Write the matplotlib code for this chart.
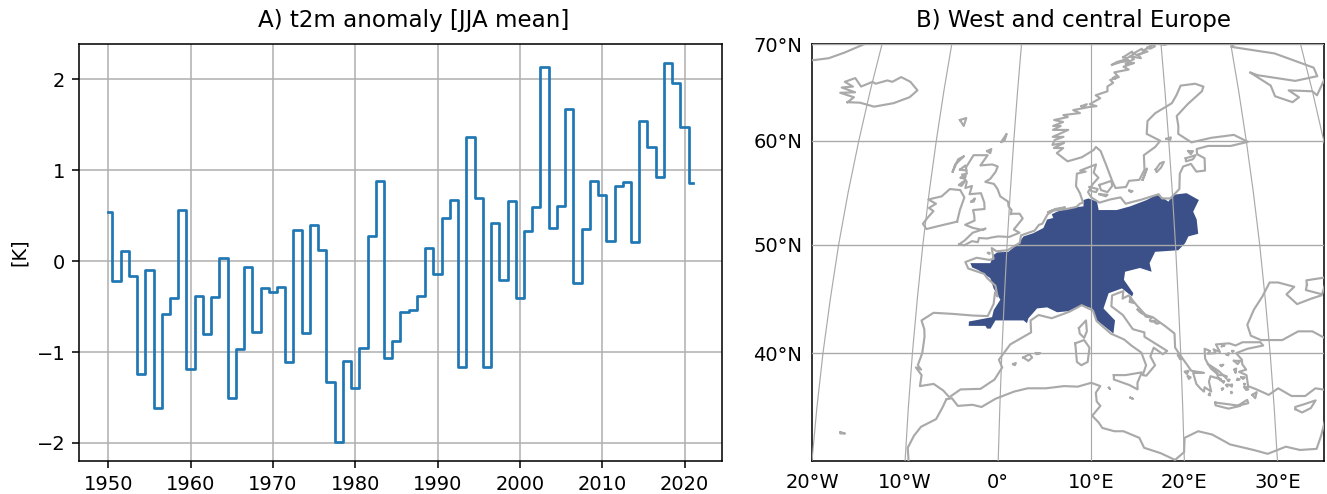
import numpy as np
import matplotlib
matplotlib.use("Agg")
import matplotlib.pyplot as plt

years = np.arange(1950, 2022)
t2m_anom = [0.54, -0.22, 0.11, -0.16, -1.24, -0.10, -1.61, -0.58, -0.41, 0.56,
            -1.19, -0.38, -0.80, -0.39, 0.04, -1.51, -0.97, -0.06, -0.78, -0.30,
            -0.34, -0.28, -1.11, 0.34, -0.79, 0.40, 0.12, -1.33, -1.99, -1.10,
            -1.40, -0.96, 0.28, 0.88, -1.06, -0.88, -0.56, -0.54, -0.38, 0.15,
            -0.14, 0.47, 0.67, -1.16, 1.37, 0.69, -1.16, 0.42, -0.21, 0.66,
            -0.41, 0.33, 0.60, 2.14, 0.36, 0.61, 1.67, -0.24, 0.35, 0.88,
            0.73, 0.22, 0.83, 0.87, 0.21, 1.54, 1.26, 0.92, 2.18, 1.96,
            1.48, 0.86]

# robinson table, lat every 5 deg
rob_lat = np.arange(0, 95, 5)
rob_plen = [1.0, 0.9986, 0.9954, 0.99, 0.9822, 0.973, 0.96, 0.9427, 0.9216, 0.8962,
            0.8679, 0.835, 0.7986, 0.7597, 0.7186, 0.6732, 0.6213, 0.5722, 0.5322]
rob_pdfe = [0.0, 0.062, 0.124, 0.186, 0.248, 0.31, 0.372, 0.434, 0.4958, 0.5571,
            0.6176, 0.6769, 0.7346, 0.7903, 0.8435, 0.8936, 0.9394, 0.9761, 1.0]

central_lon = 10
map_extent = [-20, 35, 30.2, 70]
grid_lons = [-30, -20, -10, 0, 10, 20, 30, 40]
grid_lats = [30, 40, 50, 60, 70]
lon_ticks = [-20, -10, 0, 10, 20, 30]
lon_labels = ["20°W", "10°W", "0°", "10°E", "20°E", "30°E"]
lat_ticks = [40, 50, 60, 70]
lat_labels = ["40°N", "50°N", "60°N", "70°N"]

# region mask outline (lon, lat)
region = [(-3.9, 42.5), (-3.9, 42.9), (-1.3, 43.3), (-1.15, 43.95), (-0.45, 44.9), (-1.3, 45.95),
          (-1.75, 46.9), (-3.2, 47.65), (-3.95, 47.9), (-4.2, 48.3), (-1.85, 48.3), (-1.55, 49.05),
          (-1.1, 49.3), (0.2, 49.35), (1.35, 50.15), (1.9, 50.8), (3.05, 51.1), (4.25, 51.6),
          (4.65, 52.4), (5.4, 52.55), (5.2, 52.9), (5.85, 53.15), (7.45, 53.5), (9.05, 53.65),
          (9.05, 54.25), (9.65, 54.4), (10.7, 54.1), (10.9, 53.3), (13.1, 53.3), (14.75, 53.65),
          (16.8, 54.25), (18.05, 54.75), (18.7, 54.5), (19.45, 54.1), (20.1, 54.75), (21.75, 54.9),
          (23.2, 54.25), (22.4, 53.15), (22.75, 52.4), (22.8, 51.05), (21.6, 50.8), (21.15, 50.15),
          (20.3, 49.5), (17.55, 49.35), (16.85, 48.3), (17.05, 47.5), (15.7, 47.85), (13.95, 47.5),
          (13.8, 46.75), (14.85, 45.5), (14.7, 45.2), (13.55, 45.95), (12.0, 45.5), (11.4, 44.1),
          (12.7, 43.0), (12.5, 41.8), (10.65, 43.0), (10.1, 44.1), (8.95, 44.4), (7.4, 43.85),
          (6.1, 43.75), (4.95, 44.2), (3.8, 44.1), (2.85, 43.2), (2.7, 42.75), (2.3, 43.0),
          (-0.9, 43.0), (-1.4, 42.25), (-1.8, 42.25), (-2.0, 42.5)]

# coastlines, lon/lat
iberia_france_north = [(-5.6, 36.0), (-6.3, 36.6), (-7.4, 37.2), (-8.9, 37.0), (-8.8, 38.0), (-9.5, 38.7),
                       (-8.9, 38.5), (-9.3, 38.9), (-8.9, 40.0), (-8.8, 41.5), (-8.9, 42.2), (-9.3, 43.0), (-8.0, 43.7),
                       (-5.8, 43.6), (-3.5, 43.45), (-1.8, 43.4), (-1.2, 44.5), (-1.1, 45.6), (-0.8, 45.2),
                       (-1.1, 46.2), (-2.1, 46.9), (-2.5, 47.3), (-4.4, 47.8), (-4.8, 48.4), (-3.5, 48.8),
                       (-2.0, 48.6), (-1.5, 48.7), (-1.8, 49.7), (-1.2, 49.4), (0.1, 49.5), (1.5, 50.2),
                       (1.6, 50.9), (3.2, 51.35), (3.7, 51.9), (4.1, 52.0), (4.7, 52.9), (5.4, 53.25),
                       (7.0, 53.4), (8.2, 53.6), (8.6, 53.9), (9.0, 54.0), (8.6, 54.9), (8.1, 55.6),
                       (8.2, 56.8), (9.3, 57.0), (8.6, 57.1), (10.6, 57.7), (10.3, 56.9), (10.9, 56.4), (10.2, 55.8),
                       (9.6, 55.0), (10.0, 54.5), (11.0, 54.0), (12.3, 54.3), (13.6, 54.5), (14.2, 53.9),
                       (16.2, 54.3), (18.3, 54.8), (18.7, 54.4), (19.7, 54.4), (20.9, 55.3), (21.1, 56.8),
                       (21.6, 57.5), (22.6, 57.75), (23.2, 57.0), (24.3, 57.1), (24.4, 58.3), (23.5, 58.7),
                       (23.5, 59.2), (25.0, 59.5), (27.9, 59.5), (30.2, 59.9), (28.5, 60.6), (25.5, 60.3),
                       (22.9, 59.85), (21.3, 60.7), (21.4, 61.5), (21.3, 62.5), (22.9, 63.7), (25.0, 65.0),
                       (25.3, 65.5), (24.2, 65.8), (22.2, 65.6), (21.5, 64.6), (20.8, 63.8), (18.5, 62.8),
                       (17.4, 62.0), (17.2, 60.7), (18.9, 60.0), (18.2, 59.4), (16.7, 58.6), (16.7, 57.2),
                       (16.0, 56.2), (14.7, 56.1), (14.3, 55.5), (13.0, 55.4), (12.6, 56.1), (11.9, 57.6),
                       (11.2, 59.0), (10.6, 59.4), (10.3, 59.1), (8.8, 58.4), (7.0, 58.0), (5.6, 58.8),
                       (6.4, 59.3), (5.2, 59.3), (6.5, 59.8), (5.0, 59.6), (5.3, 60.1), (6.4, 60.4), (5.0, 60.4),
                       (7.0, 61.1), (5.0, 61.1), (6.0, 61.5), (5.0, 61.5), (6.3, 61.9), (5.1, 62.1), (6.9, 62.4),
                       (6.3, 62.6), (8.5, 62.8), (7.6, 63.1), (9.6, 63.4), (10.7, 63.5), (9.8, 63.7), (11.2, 64.3),
                       (10.6, 64.6), (12.2, 65.0), (12.2, 65.5), (13.0, 65.9), (12.6, 66.2), (13.8, 66.5),
                       (13.2, 67.0), (15.2, 67.3), (14.5, 67.6), (16.0, 68.0), (14.8, 67.9), (16.0, 68.4),
                       (15.5, 68.7), (17.0, 68.5), (16.6, 68.9), (18.0, 69.2), (17.3, 69.3), (18.5, 69.7),
                       (19.0, 70.1), (20.5, 69.9), (22.0, 70.3), (25.0, 71.0), (28.0, 71.0), (31.0, 70.3),
                       (30.0, 69.7), (33.5, 69.3), (36.0, 69.0), (41.0, 67.5), (41.2, 66.6), (38.0, 66.1),
                       (33.0, 66.7), (32.0, 67.0), (34.5, 65.6), (34.8, 64.5), (37.0, 63.9), (38.0, 64.4),
                       (36.8, 65.1), (40.0, 65.0), (40.5, 64.6), (42.0, 66.2)]
med_north = [(-5.4, 36.1), (-4.4, 36.7), (-2.2, 36.75), (-0.7, 37.6), (0.1, 38.7), (-0.3, 39.4), (0.9, 40.8),
             (3.2, 41.9), (3.1, 43.0), (4.0, 43.5), (5.5, 43.2), (7.5, 43.8), (8.9, 44.4), (10.2, 43.9),
             (10.6, 42.95), (12.2, 41.8), (13.7, 41.25), (14.5, 40.7), (15.6, 40.05), (16.1, 38.9),
             (15.7, 38.0), (16.1, 37.95), (17.1, 38.9), (16.6, 39.7), (17.0, 40.5), (18.0, 39.9), (18.5, 40.2),
             (16.0, 41.5), (16.0, 41.9), (14.7, 42.2), (13.6, 43.5), (12.3, 44.3), (12.4, 45.3), (13.7, 45.7),
             (13.6, 45.0), (14.3, 45.3), (14.9, 44.7), (15.3, 44.3), (16.2, 43.5), (17.0, 43.3), (18.5, 42.4),
             (19.4, 41.8), (19.4, 40.5), (20.2, 39.5), (21.1, 38.4), (22.5, 38.2), (21.3, 38.2), (21.6, 37.2),
             (22.0, 36.8), (22.4, 36.5), (22.5, 36.9), (23.2, 36.5), (23.0, 37.4), (23.2, 37.9), (24.0, 37.7),
             (24.0, 38.2), (23.0, 39.0), (22.7, 39.5), (22.7, 40.4), (23.3, 40.2), (23.0, 39.95), (23.9, 40.0),
             (23.7, 40.35), (24.4, 40.1), (24.0, 40.8), (25.5, 40.9), (26.2, 40.7), (27.0, 41.0), (29.0, 41.0),
             (29.3, 40.7), (27.5, 40.4), (26.2, 40.0), (26.8, 39.4), (26.8, 39.0), (27.2, 38.5), (26.4, 38.3),
             (27.2, 38.0), (27.3, 37.0), (28.2, 36.7), (29.5, 36.2), (30.6, 36.8), (32.0, 36.1), (33.5, 36.1),
             (34.7, 36.8), (36.2, 36.6)]
black_sea = [(29.1, 41.2), (28.0, 41.6), (27.7, 42.6), (28.6, 44.0), (29.7, 45.2), (30.7, 46.5), (31.7, 46.5),
             (33.5, 46.1), (32.5, 45.4), (33.6, 44.5), (35.3, 45.0), (36.5, 45.3)]
turkey_north = [(29.1, 41.2), (31.5, 41.2), (33.4, 42.0), (35.0, 42.0), (36.5, 41.3)]
azov = [(35.0, 46.3), (34.8, 45.8), (36.6, 45.4), (37.5, 47.0), (35.0, 46.7), (35.0, 46.3)]
north_africa = [(-5.9, 35.8), (-5.3, 35.9), (-4.6, 35.2), (-3.0, 35.3), (-2.0, 35.1), (-0.5, 35.85), (1.5, 36.5),
                (3.0, 36.8), (5.0, 36.8), (7.0, 37.0), (8.5, 36.95), (10.0, 37.3), (11.0, 37.0), (10.5, 36.4),
                (10.6, 35.6), (11.0, 35.2), (10.1, 34.3), (10.8, 33.7), (11.2, 33.2), (12.5, 32.9), (13.5, 32.9),
                (15.2, 32.3), (15.7, 31.4), (17.5, 30.9), (19.0, 30.3), (20.0, 31.0), (20.1, 32.3), (21.6, 32.9),
                (23.1, 32.6), (25.0, 31.7), (27.5, 31.2), (29.0, 30.85), (31.0, 31.5), (32.5, 31.2), (34.3, 31.3),
                (34.9, 32.5), (35.5, 34.0)]
africa_west = [(-5.9, 35.8), (-6.3, 35.0), (-6.9, 34.0), (-8.5, 33.3), (-9.2, 32.5), (-9.8, 31.4), (-9.6, 30.0)]
greenland = [(-32.0, 68.1), (-29.0, 68.3), (-27.0, 68.5), (-25.0, 69.1), (-22.5, 70.0), (-21.5, 71.0)]
iceland = [(-22.7, 63.9), (-21.0, 63.85), (-19.0, 63.45), (-16.5, 63.8), (-14.5, 64.4), (-13.6, 65.1), (-14.8, 66.0),
           (-16.2, 66.5), (-17.3, 66.0), (-18.0, 66.15), (-19.5, 65.8), (-20.0, 66.0), (-21.4, 65.5), (-22.5, 66.4),
           (-23.8, 66.0), (-22.5, 65.5), (-24.0, 65.4), (-22.0, 64.9), (-24.0, 64.85), (-22.0, 64.4), (-22.7, 63.9)]
britain = [(-5.7, 50.05), (-5.1, 49.95), (-4.2, 50.35), (-3.5, 50.25), (-3.4, 50.65), (-2.4, 50.6), (-1.9, 50.7),
           (-1.1, 50.8), (0.2, 50.75), (1.4, 51.15), (0.7, 51.45), (1.7, 52.5), (1.3, 52.95), (0.4, 52.95), (0.2, 52.9),
           (0.3, 53.3), (-0.1, 53.65), (-0.2, 54.1), (-1.2, 54.6), (-1.6, 55.3), (-2.1, 55.8), (-3.2, 56.0), (-2.6, 56.3),
           (-2.0, 57.0), (-1.8, 57.5), (-2.5, 57.7), (-4.0, 57.6), (-3.2, 58.6), (-5.0, 58.6), (-5.4, 58.0), (-5.8, 57.4),
           (-5.6, 56.8), (-6.2, 56.7), (-5.5, 56.0), (-5.6, 55.4), (-4.8, 55.6), (-5.0, 54.8), (-3.6, 54.9), (-3.1, 54.0),
           (-3.0, 53.4), (-4.4, 53.3), (-4.2, 52.8), (-4.1, 52.3), (-5.2, 51.9), (-4.2, 51.6), (-3.0, 51.4), (-2.7, 51.55),
           (-4.2, 51.15), (-5.1, 50.4), (-5.7, 50.05)]
ireland = [(-6.2, 52.2), (-6.0, 53.3), (-5.6, 54.5), (-6.2, 55.2), (-7.5, 55.3), (-8.4, 54.6), (-10.0, 54.3), (-9.0, 53.9),
           (-9.8, 53.5), (-9.2, 53.2), (-9.8, 52.6), (-10.3, 52.0), (-9.8, 51.5), (-8.3, 51.8), (-6.2, 52.2)]
small_islands = [
    [(32.3, 34.9), (33.0, 34.6), (34.0, 35.0), (34.6, 35.7), (33.3, 35.35), (32.3, 35.1), (32.3, 34.9)],
    [(23.6, 35.5), (25.0, 35.35), (26.3, 35.2), (25.0, 34.95), (23.6, 35.25), (23.6, 35.5)],
    [(8.2, 40.9), (9.2, 41.2), (9.8, 40.5), (9.6, 39.2), (8.9, 38.9), (8.4, 39.2), (8.2, 40.9)],
    [(8.6, 42.3), (9.4, 43.0), (9.5, 42.0), (9.2, 41.4), (8.7, 41.8), (8.6, 42.3)],
    [(12.5, 38.0), (13.8, 38.0), (15.6, 38.25), (15.1, 37.3), (15.1, 36.7), (14.2, 37.1), (12.5, 37.6), (12.5, 38.0)],
    [(2.4, 39.6), (3.1, 39.9), (3.4, 39.6), (3.0, 39.3), (2.4, 39.6)],
    [(1.3, 39.0), (1.6, 39.1), (1.5, 38.9), (1.3, 39.0)],
    [(3.8, 40.0), (4.3, 40.0), (3.9, 39.9), (3.8, 40.0)],
    [(14.3, 35.95), (14.55, 35.85), (14.3, 35.95)],
    [(11.95, 36.85), (12.05, 36.75), (11.95, 36.85)],
    [(-17.2, 32.8), (-16.7, 32.7), (-17.2, 32.7), (-17.2, 32.8)],
    [(-7.3, 62.1), (-6.5, 62.3), (-6.7, 61.5), (-7.3, 62.1)],
    [(-1.6, 59.9), (-1.0, 60.7), (-1.2, 60.0), (-1.6, 59.9)],
    [(-3.3, 59.0), (-2.8, 59.2), (-2.9, 58.8), (-3.3, 59.0)],
    [(-7.4, 57.0), (-7.2, 57.7), (-6.2, 58.5), (-6.9, 58.2), (-7.4, 57.0)],
    [(-6.5, 57.2), (-5.9, 57.6), (-5.7, 57.1), (-6.5, 57.2)],
    [(-6.4, 55.7), (-6.0, 56.0), (-5.7, 56.1), (-6.1, 55.6), (-6.4, 55.7)],
    [(-6.3, 56.4), (-5.7, 56.6), (-5.8, 56.3), (-6.3, 56.4)],
    [(-4.7, 54.1), (-4.3, 54.4), (-4.4, 54.1), (-4.7, 54.1)],
    [(-2.2, 49.25), (-2.0, 49.25), (-2.05, 49.15), (-2.2, 49.25)],
    [(18.1, 57.2), (18.7, 57.8), (19.2, 57.95), (18.8, 57.4), (18.2, 56.95), (18.1, 57.2)],
    [(16.4, 56.2), (17.0, 57.3), (16.6, 56.5), (16.4, 56.2)],
    [(22.0, 58.3), (23.3, 58.6), (22.9, 58.2), (22.0, 58.0), (22.0, 58.3)],
    [(22.4, 59.0), (23.0, 59.0), (22.7, 58.7), (22.4, 59.0)],
    [(19.7, 60.2), (20.3, 60.35), (20.2, 60.1), (19.7, 60.2)],
    [(11.0, 55.7), (12.5, 56.1), (12.6, 55.6), (12.0, 55.0), (11.2, 55.2), (11.0, 55.7)],
    [(9.8, 55.5), (10.8, 55.3), (10.6, 55.0), (10.0, 55.1), (9.8, 55.5)],
    [(11.0, 54.8), (12.0, 54.75), (11.8, 54.6), (11.0, 54.8)],
    [(14.7, 55.15), (15.1, 55.1), (14.9, 55.0), (14.7, 55.15)],
    [(4.8, 53.1), (5.6, 53.4), (6.8, 53.55), (5.0, 53.2), (4.8, 53.1)],
    [(19.7, 39.8), (20.1, 39.5), (19.9, 39.45), (19.7, 39.8)],
    [(20.4, 38.3), (20.8, 38.4), (20.6, 38.1), (20.4, 38.3)],
    [(20.7, 37.9), (21.0, 37.8), (20.8, 37.65), (20.7, 37.9)],
    [(23.0, 39.0), (24.1, 38.4), (24.6, 38.0), (24.1, 38.0), (23.3, 38.6), (23.0, 39.0)],
    [(25.9, 39.3), (26.6, 39.3), (26.3, 39.0), (25.9, 39.3)],
    [(25.9, 38.5), (26.1, 38.6), (26.0, 38.2), (25.9, 38.5)],
    [(26.6, 37.8), (27.0, 37.8), (26.8, 37.65), (26.6, 37.8)],
    [(27.7, 36.2), (28.2, 36.45), (28.0, 35.9), (27.7, 36.2)],
    [(26.9, 36.9), (27.3, 36.9), (27.0, 36.75), (26.9, 36.9)],
    [(25.3, 37.1), (25.55, 37.15), (25.5, 36.95), (25.3, 37.1)],
    [(24.7, 37.95), (25.0, 37.9), (24.95, 37.7), (24.7, 37.95)],
    [(25.1, 37.55), (25.3, 37.6), (25.2, 37.45), (25.1, 37.55)],
    [(24.9, 40.7), (24.6, 40.6), (24.8, 40.75), (24.9, 40.7)],
    [(25.8, 40.2), (25.95, 40.2), (25.8, 40.1), (25.8, 40.2)],
    [(25.1, 39.9), (25.4, 40.0), (25.3, 39.8), (25.1, 39.9)],
    [(26.0, 35.2), (27.1, 35.75), (27.2, 35.45), (26.0, 35.2)],
    [(24.4, 36.75), (24.55, 36.8), (24.4, 36.65), (24.4, 36.75)],
    [(23.0, 36.3), (23.05, 36.15), (22.9, 36.2), (23.0, 36.3)],
    [(24.4, 38.9), (24.7, 38.95), (24.5, 38.8), (24.4, 38.9)],
    # cyclades, dodecanese
    [(24.9, 37.1), (25.1, 37.15), (25.0, 36.95), (24.9, 37.1)],
    [(25.4, 36.45), (25.5, 36.4), (25.4, 36.35), (25.4, 36.45)],
    [(24.5, 37.45), (24.7, 37.45), (24.6, 37.3), (24.5, 37.45)],
    [(24.1, 37.7), (24.35, 37.65), (24.3, 37.5), (24.1, 37.7)],
    [(26.2, 37.65), (26.4, 37.6), (26.1, 37.55), (26.2, 37.65)],
    [(27.0, 36.85), (27.3, 36.7), (27.05, 36.65), (27.0, 36.85)],
    [(26.9, 37.2), (27.0, 37.2), (26.9, 37.1), (26.9, 37.2)],
    # dalmatia
    [(16.1, 43.5), (16.9, 43.25), (16.2, 43.35), (16.1, 43.5)],
    [(15.3, 44.0), (15.9, 43.6), (15.5, 43.8), (15.3, 44.0)],
    [(14.5, 45.1), (14.9, 44.6), (14.4, 44.7), (14.5, 45.1)],
    [(16.7, 43.0), (17.3, 42.9), (16.8, 42.9), (16.7, 43.0)],
    [(17.3, 42.8), (17.7, 42.75), (17.4, 42.7), (17.3, 42.8)],
    # lofoten, vesteralen
    [(12.9, 67.8), (13.6, 68.1), (15.0, 68.4), (15.4, 68.2), (14.2, 68.1), (12.9, 67.8)],
    [(14.5, 68.6), (15.8, 69.2), (15.9, 68.85), (15.0, 68.5), (14.5, 68.6)],
    [(16.0, 69.0), (17.2, 69.5), (17.5, 69.1), (16.5, 68.8), (16.0, 69.0)],
    [(18.0, 69.6), (18.9, 70.0), (19.1, 69.75), (18.4, 69.5), (18.0, 69.6)],
    [(13.0, 66.4), (13.4, 66.6), (13.3, 66.3), (13.0, 66.4)],
    [(8.7, 63.5), (9.4, 63.7), (8.9, 63.3), (8.7, 63.5)],
]
coast_lines = ([iberia_france_north, med_north, black_sea, turkey_north, azov, north_africa, africa_west,
                greenland, iceland, britain, ireland] + small_islands)


def robinson(lon, lat):
    lon = np.asarray(lon, dtype=float)
    lat = np.asarray(lat, dtype=float)
    x = 0.8487 * np.interp(lat, rob_lat, rob_plen) * np.radians(lon - central_lon)
    y = 1.3523 * np.interp(lat, rob_lat, rob_pdfe)
    return x, y


def draw_coast(ax, points):
    pts = np.array(points)
    x, y = robinson(pts[:, 0], pts[:, 1])
    ax.plot(x, y, color="darkgray", lw=1.1, solid_joinstyle="round", zorder=4)


fig = plt.figure(figsize=(1327 / 140, 494 / 140), dpi=140)

# panel A
ax1 = fig.add_axes([79 / 1327, 1 - 461 / 494, 643 / 1327, 417 / 494])
ax1.step(years, t2m_anom, where="mid", color="tab:blue", lw=1.4)
ax1.grid(True)
ax1.set_xticks(np.arange(1950, 2021, 10))
ax1.set_yticks([-2, -1, 0, 1, 2])
ax1.set_ylabel("[K]")
ax1.set_title("A) t2m anomaly [JJA mean]", x=(413.5 - 79) / 643, pad=8.5, fontsize=11.8)

# panel B
ax2 = fig.add_axes([812 / 1327, 1 - 461 / 494, 512 / 1327, 417 / 494])
x_left, y_bottom = robinson(map_extent[0], map_extent[2])
x_right, _ = robinson(map_extent[1], map_extent[2])
_, y_top = robinson(map_extent[0], map_extent[3])

reg = np.array(region)
rx, ry = robinson(reg[:, 0], reg[:, 1])
ax2.fill(rx, ry, color="#3b5088", lw=0, zorder=2)

lat_line = np.arange(30, 71, 1.0)
for lon in grid_lons:
    mx, my = robinson(np.full(lat_line.shape, lon), lat_line)
    ax2.plot(mx, my, color="darkgray", lw=0.6, zorder=3)
for lat in grid_lats:
    px, py = robinson(np.array([-40, 60]), np.full(2, lat))
    ax2.plot(px, py, color="darkgray", lw=0.7, zorder=3)

for line in coast_lines:
    draw_coast(ax2, line)

ax2.set_xlim(x_left, x_right)
ax2.set_ylim(y_bottom, y_top)
ax2.set_xticks(robinson(lon_ticks, np.full(len(lon_ticks), map_extent[2]))[0], lon_labels)
ax2.set_yticks(robinson(np.zeros(len(lat_ticks)), lat_ticks)[1], lat_labels)
ax2.tick_params(axis="x", length=0, pad=6)
ax2.tick_params(axis="y", length=0, pad=5)
ax2.set_title("B) West and central Europe", x=(1073 - 812) / 512, pad=8.5, fontsize=11.8)

fig.savefig("out.png", dpi=140)
